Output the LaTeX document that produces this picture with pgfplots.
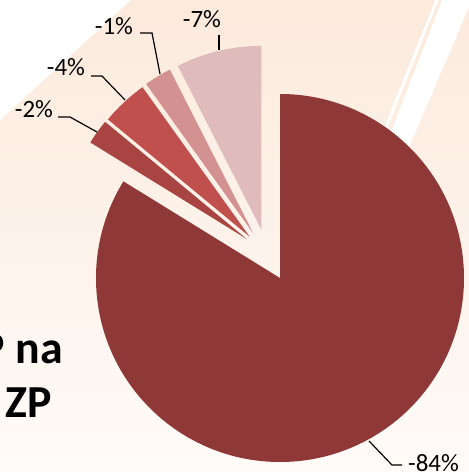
\documentclass[border=0pt]{standalone}
\usepackage{pgfplots}
\pgfplotsset{compat=1.18}
\usepackage{pgfplotstable}
\usepackage{fontspec}
\setmainfont{Carlito}
\definecolor{bgtop}{RGB}{252,234,220}
\definecolor{bgbot}{RGB}{255,251,248}
\definecolor{sliceA}{RGB}{142,57,55}
\definecolor{sliceB}{RGB}{168,69,66}
\definecolor{sliceC}{RGB}{192,80,77}
\definecolor{sliceD}{RGB}{211,146,145}
\definecolor{sliceE}{RGB}{224,187,187}

% share of the pie (percent), colour, explode direction (deg), explode distance (px)
\pgfplotstableread{
value col ea ed
83.8 sliceA 0 0
2.2 sliceB 130.4 51.1
4.1 sliceC 126.3 51.2
2.4 sliceD 120.9 51.8
7.5 sliceE 111.1 51.6
}\piedata

\begin{document}
\begin{tikzpicture}
\useasboundingbox (0,0) rectangle (469bp,472bp);
\clip (0,0) rectangle (469bp,472bp);
\begin{axis}[x=1bp,y=1bp,xmin=0,xmax=469,ymin=0,ymax=472,hide axis,
  at={(0,0)},anchor=south west,clip=false]
% background
\fill[top color=bgtop,bottom color=bgbot] (axis cs:0,0) rectangle (axis cs:469,472);
\fill[white] (axis cs:0,472) -- (axis cs:0,352) -- (axis cs:131,472) -- cycle;
\draw[white,line width=3bp] (axis cs:437,472) -- (axis cs:352,260);
\fill[white] (axis cs:442,472) -- (axis cs:472,472) -- (axis cs:378,252) -- (axis cs:357,252) -- cycle;
% pie
\def\startang{90}
\pgfplotsforeachungrouped \i in {0,...,4}{%
  \pgfplotstablegetelem{\i}{value}\of\piedata \let\val\pgfplotsretval
  \pgfplotstablegetelem{\i}{col}\of\piedata \let\col\pgfplotsretval
  \pgfplotstablegetelem{\i}{ea}\of\piedata \let\ea\pgfplotsretval
  \pgfplotstablegetelem{\i}{ed}\of\piedata \let\ed\pgfplotsretval
  \pgfmathsetmacro{\endang}{\startang-3.6*\val}
  \pgfmathsetmacro{\cx}{280+\ed*cos(\ea)}
  \pgfmathsetmacro{\cy}{194+\ed*sin(\ea)}
  \edef\temp{\noexpand\fill[\col] (axis cs:\cx,\cy) -- ++(\startang:184bp)
     arc[start angle=\startang,end angle=\endang,radius=184bp] -- cycle;}%
  \temp
  \global\let\startang\endang
}
% labels
\tikzset{lab/.style={font=\fontsize{25}{30}\selectfont,anchor=base,inner sep=0pt},
  lead/.style={line width=1.2bp,black}}
\node[lab] at (axis cs:202,444) {-7\%};
\draw[lead] (axis cs:219,437) -- (axis cs:219,422);
\node[lab] at (axis cs:114,437) {-1\%};
\draw[lead] (axis cs:140,439) -- (axis cs:152,439) -- (axis cs:160,398);
\node[lab] at (axis cs:66,396) {-4\%};
\draw[lead] (axis cs:91,396) -- (axis cs:102,396) -- (axis cs:125,372);
\node[lab] at (axis cs:34,355) {-2\%};
\draw[lead] (axis cs:58,355) -- (axis cs:70,355) -- (axis cs:97,340);
\node[lab] at (axis cs:433.5,1) {-84\%};
\draw[lead] (axis cs:369,31) -- (axis cs:392,7) -- (axis cs:402,7);
% title fragment
\node[font=\fontsize{46}{52}\selectfont\bfseries,anchor=base east,inner sep=0pt] at (axis cs:63,109) {P na};
\node[font=\fontsize{46}{52}\selectfont\bfseries,anchor=base west,inner sep=0pt] at (axis cs:5,55) {ZP};
\end{axis}
\end{tikzpicture}
\end{document}
